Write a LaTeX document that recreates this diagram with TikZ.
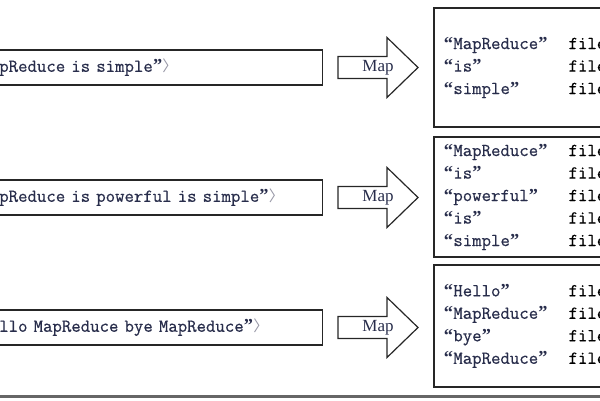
\documentclass[tikz,border=0pt]{standalone}
\usepackage{fontspec}
\setmainfont{Liberation Serif}
\setmonofont{Latin Modern Mono}[FakeBold=0.6]
\newfontfamily\cjk{Noto Sans CJK SC}
\usepackage{tikz}
\usetikzlibrary{positioning,calc}

\definecolor{wordcol}{RGB}{40,45,75}
\definecolor{bracketcol}{RGB}{150,150,165}
\newcommand{\oq}{\makebox[9.6pt]{\rmfamily\bfseries“}}
\newcommand{\cq}{\makebox[9.6pt]{\rmfamily\bfseries”}}
\newcommand{\kv}[1]{\makebox[124.8pt][l]{\oq#1\cq}{\color{black}file}}
\newcommand{\closebr}{{\cjk\fontsize{15}{18}\selectfont\color{bracketcol}〉}}

\begin{document}
\begin{tikzpicture}[
  x=1pt, y=-1pt,
  font=\ttfamily\fontsize{18.3}{22.5}\selectfont,
  frame/.style={draw=black!85, line width=1.5pt},
  inbox/.style={frame, text width=313pt, inner xsep=10pt, minimum height=35pt, align=left, anchor=east, text=wordcol},
  outbox/.style={frame, text width=180pt, inner xsep=10pt, align=left, anchor=west, text=wordcol},
  maplabel/.style={font=\rmfamily\fontsize{17}{20}\selectfont, text=wordcol, inner sep=0pt},
  blockarr/.style={draw=black!85, line width=1.2pt, line join=miter}
]
\path[use as bounding box, clip] (0,0) rectangle (600,400);

% input lines
\node[inbox] (in1) at (323,67.5) {pReduce is simple\cq\closebr};
\node[inbox] (in2) at (323,197.5) {pReduce is powerful is simple\cq\closebr};
\node[inbox] (in3) at (323,327.5) {llo MapReduce bye MapReduce\cq\closebr};

% map arrows
\node[maplabel] (m1) at (378,67.5) {Map};
\node[maplabel] (m2) at (378,197.5) {Map};
\node[maplabel] (m3) at (378,327.5) {Map};
\draw[blockarr] (m1) ++(-40,-11) -- ++(49,0) -- ++(0,-19) -- ++(31,30) -- ++(-31,30) -- ++(0,-19) -- ++(-49,0) -- cycle;
\draw[blockarr] (m2) ++(-40,-11) -- ++(49,0) -- ++(0,-19) -- ++(31,30) -- ++(-31,30) -- ++(0,-19) -- ++(-49,0) -- cycle;
\draw[blockarr] (m3) ++(-40,-11) -- ++(49,0) -- ++(0,-19) -- ++(31,30) -- ++(-31,30) -- ++(0,-19) -- ++(-49,0) -- cycle;

% map output
\node[outbox, minimum height=119pt] (out1) at (433,67.5)
  {\kv{MapReduce}\\\kv{is}\\\kv{simple}};
\node[outbox, minimum height=120pt] (out2) at (433,197)
  {\kv{MapReduce}\\\kv{is}\\\kv{powerful}\\\kv{is}\\\kv{simple}};
\node[outbox, minimum height=122pt] (out3) at (433,326)
  {\kv{Hello}\\\kv{MapReduce}\\\kv{bye}\\\kv{MapReduce}};

% edge of the next panel
\draw[frame, draw=black!60, line width=2.5pt] (-10,396.5) rectangle (610,430);
\end{tikzpicture}
\end{document}
